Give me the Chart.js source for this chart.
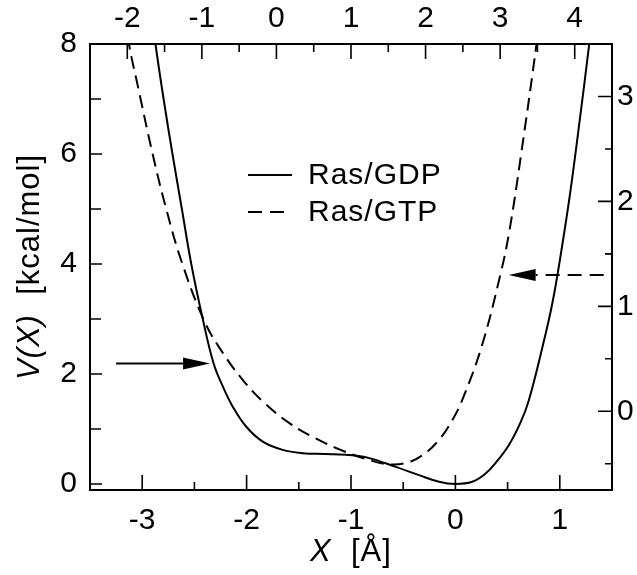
<!DOCTYPE html>
<html><head><meta charset="utf-8">
<script src="https://cdn.jsdelivr.net/npm/chart.js@4.4.1/dist/chart.umd.min.js"></script>
<style>html,body{margin:0;padding:0;background:#fff;}#wrap{width:637px;height:575px;position:relative;}</style>
</head><body><div id="wrap"><canvas id="c" width="637" height="575"></canvas></div>
<script>
// ---- data ----
const seriesLabels = ['Ras/GDP', 'Ras/GTP'];
const gdpX = [-2.905, -2.873, -2.795, -2.71, -2.62, -2.53, -2.42, -2.316, -2.227, -2.131, -2.003, -1.845, -1.654, -1.463, -1.25, -1.048, -0.826, -0.571, -0.348, -0.157, 0.0, 0.161, 0.289, 0.384, 0.51, 0.62, 0.70, 0.83, 0.93, 1.02, 1.10, 1.19, 1.282, 1.31];
const gdpV = [8.5, 8.0, 7.0, 6.0, 5.0, 4.0, 3.0, 2.19, 1.77, 1.40, 1.04, 0.77, 0.62, 0.56, 0.545, 0.53, 0.47, 0.31, 0.16, 0.04, 0.0, 0.04, 0.19, 0.38, 0.70, 1.10, 1.50, 2.46, 3.30, 4.30, 5.30, 6.60, 8.0, 8.45];
const gtpX = [-3.16, -3.127, -3.04, -2.90, -2.77, -2.615, -2.402, -2.227, -2.036, -1.845, -1.60, -1.35, -1.10, -0.85, -0.65, -0.475, -0.317, -0.157, -0.03, 0.066, 0.25, 0.43, 0.518, 0.63, 0.777, 0.80];
const gtpV = [8.5, 8.0, 7.22, 6.0, 5.0, 4.0, 2.95, 2.38, 1.89, 1.50, 1.12, 0.84, 0.62, 0.45, 0.36, 0.38, 0.52, 0.80, 1.16, 1.53, 2.49, 3.80, 4.61, 6.0, 8.0, 8.4];

const bottomTicks = [-3, -2, -1, 0, 1];
const bottomMinor = [-2.5, -1.5, -0.5, 0.5];
const topTicks = [-2, -1, 0, 1, 2, 3, 4];
const topMinor = [-1.5, -0.5, 0.5, 1.5, 2.5, 3.5];
const leftTicks = [0, 2, 4, 6, 8];
const leftMinor = [1, 3, 5, 7];
const rightTicks = [0, 1, 2, 3];
const rightMinor = [-0.5, 0.5, 1.5, 2.5];

const arrowGDP = { y: 2.19, from: -3.25, to: -2.35 };
const arrowGTP = { y: 3.80, from: 1.42, to: 0.51 };

const xTitleItalic = 'X', xTitleRest = '  [\u00C5]';
const yTitleItalic = 'V(X)', yTitleRest = '  [kcal/mol]';

// ---- styling ----
const FONT = "'Liberation Sans', Arial, Helvetica, sans-serif";
const FS = 30;
const TFS = 31;

const pts = (xs, vs) => xs.map((x, i) => ({ x: x, y: vs[i] }));

function fixTicks(list) { return s => { s.ticks = list.map(v => ({ value: v })); }; }

const inTicks = {
  id: 'inTicks',
  afterDraw(chart) {
    const { ctx, chartArea: a, scales: s } = chart;
    ctx.save();
    ctx.strokeStyle = '#000'; ctx.lineWidth = 1.6; ctx.setLineDash([]);
    ctx.beginPath();
    const H = (scale, vals, len, yEdge, dir) => vals.forEach(v => {
      const p = scale.getPixelForValue(v); ctx.moveTo(p, yEdge); ctx.lineTo(p, yEdge + dir * len);
    });
    const V = (scale, vals, len, xEdge, dir) => vals.forEach(v => {
      const p = scale.getPixelForValue(v); ctx.moveTo(xEdge, p); ctx.lineTo(xEdge + dir * len, p);
    });
    H(s.x, bottomTicks, 15, a.bottom, -1); H(s.x, bottomMinor, 8, a.bottom, -1);
    H(s.x2, topTicks, 15, a.top, 1); H(s.x2, topMinor, 8, a.top, 1);
    V(s.y, leftTicks, 12, a.left, 1); V(s.y, leftMinor, 11, a.left, 1);
    V(s.y2, rightTicks, 14, a.right, -1); V(s.y2, rightMinor, 7, a.right, -1);
    ctx.stroke();
    ctx.restore();
  }
};

function drawArrow(ctx, xs, ys, a, dashed) {
  const y = ys.getPixelForValue(a.y), x0 = xs.getPixelForValue(a.from), x1 = xs.getPixelForValue(a.to);
  const dir = Math.sign(x1 - x0), hl = 27, hh = 6;
  ctx.lineWidth = 2;
  ctx.setLineDash(dashed ? [14, 8] : []);
  ctx.beginPath(); ctx.moveTo(x0, y); ctx.lineTo(x1 - dir * hl, y); ctx.stroke();
  ctx.setLineDash([]);
  ctx.beginPath(); ctx.moveTo(x1, y); ctx.lineTo(x1 - dir * hl, y - hh); ctx.lineTo(x1 - dir * hl, y + hh); ctx.closePath(); ctx.fill();
}

const extras = {
  id: 'extras',
  afterDraw(chart) {
    const { ctx, chartArea: a, scales: s } = chart;
    ctx.save();
    ctx.strokeStyle = '#000'; ctx.fillStyle = '#000';
    drawArrow(ctx, s.x, s.y, arrowGDP, false);
    drawArrow(ctx, s.x, s.y, arrowGTP, true);

    // legend
    const lx = a.left + 158, ly1 = a.top + 131, ly2 = a.top + 168;
    ctx.lineWidth = 2;
    ctx.setLineDash([]);
    ctx.beginPath(); ctx.moveTo(lx, ly1); ctx.lineTo(lx + 44, ly1); ctx.stroke();
    ctx.setLineDash([14, 8]);
    ctx.beginPath(); ctx.moveTo(lx, ly2); ctx.lineTo(lx + 44, ly2); ctx.stroke();
    ctx.setLineDash([]);
    if ('letterSpacing' in ctx) ctx.letterSpacing = '1px';
    ctx.font = FS + 'px ' + FONT; ctx.textBaseline = 'middle'; ctx.textAlign = 'left';
    ctx.fillText(chart.data.datasets[0].label, lx + 60, ly1 + 1);
    ctx.fillText(chart.data.datasets[1].label, lx + 60, ly2 + 1);

    // axis titles
    const it = 'italic ' + TFS + 'px ' + FONT, up = TFS + 'px ' + FONT;
    ctx.textBaseline = 'alphabetic';
    ctx.font = it; const w1 = ctx.measureText(xTitleItalic).width;
    ctx.font = up; const w2 = ctx.measureText(xTitleRest).width;
    let cx = (a.left + a.right) / 2 - (w1 + w2) / 2;
    const by = 561;
    ctx.font = it; ctx.fillText(xTitleItalic, cx, by);
    ctx.font = up; ctx.fillText(xTitleRest, cx + w1, by);

    ctx.font = it; const v1 = ctx.measureText(yTitleItalic).width;
    ctx.font = up; const v2 = ctx.measureText(yTitleRest).width;
    ctx.translate(39, (a.top + a.bottom) / 2);
    ctx.rotate(-Math.PI / 2);
    const sx = -(v1 + v2) / 2;
    ctx.font = it; ctx.fillText(yTitleItalic, sx, 0);
    ctx.font = up; ctx.fillText(yTitleRest, sx + v1, 0);
    ctx.restore();
  }
};

const tickFont = { family: FONT, size: FS };
const common = {
  grid: { display: false, drawOnChartArea: false, drawTicks: false },
  border: { display: true, color: '#000', width: 2 }
};

new Chart(document.getElementById('c').getContext('2d'), {
  type: 'scatter',
  data: {
    datasets: [
      { label: seriesLabels[0], data: pts(gdpX, gdpV), showLine: true, borderColor: '#000', borderWidth: 2,
        pointRadius: 0, tension: 0.4, xAxisID: 'x', yAxisID: 'y' },
      { label: seriesLabels[1], data: pts(gtpX, gtpV), showLine: true, borderColor: '#000', borderWidth: 2,
        borderDash: [13, 7], pointRadius: 0, tension: 0.4, xAxisID: 'x', yAxisID: 'y' }
    ]
  },
  options: {
    responsive: false, animation: false, devicePixelRatio: 1,
    layout: { padding: 0 },
    plugins: { legend: { display: false }, tooltip: { enabled: false } },
    scales: {
      x: Object.assign({}, common, { type: 'linear', position: 'bottom', min: -3.5, max: 1.5,
        afterBuildTicks: fixTicks(bottomTicks), afterFit: s => { s.height = 85; },
        ticks: { padding: 13, color: '#000', font: tickFont, maxRotation: 0, callback: v => String(v) } }),
      x2: Object.assign({}, common, { type: 'linear', position: 'top', min: -2.5, max: 4.5,
        afterBuildTicks: fixTicks(topTicks), afterFit: s => { s.height = 44; },
        ticks: { padding: 7, color: '#000', font: tickFont, maxRotation: 0, callback: v => String(v) } }),
      y: Object.assign({}, common, { type: 'linear', position: 'left', min: -0.11, max: 8,
        afterBuildTicks: fixTicks(leftTicks), afterFit: s => { s.width = 90; },
        ticks: { padding: 13, color: '#000', font: tickFont, callback: v => String(v) } }),
      y2: Object.assign({}, common, { type: 'linear', position: 'right', min: -0.75, max: 3.5,
        afterBuildTicks: fixTicks(rightTicks), afterFit: s => { s.width = 25; },
        ticks: { padding: 5, color: '#000', font: tickFont, callback: v => String(v) } })
    }
  },
  plugins: [inTicks, extras]
});
</script>
</body></html>
